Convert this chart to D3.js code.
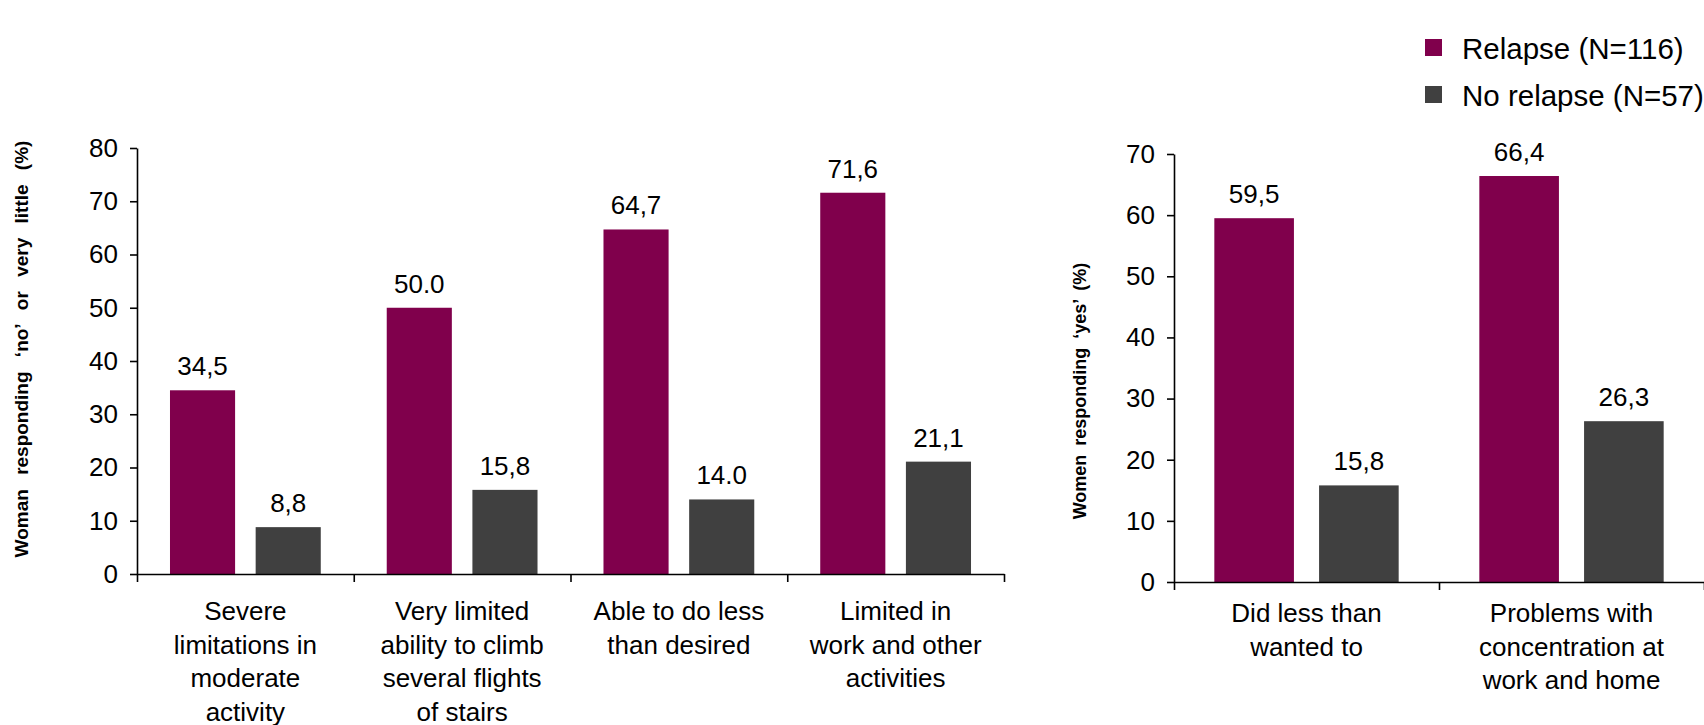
<!DOCTYPE html>
<html>
<head>
<meta charset="utf-8">
<script src="https://cdn.jsdelivr.net/npm/d3@7"></script>
<style>
  body { margin: 0; background: #fff; }
  svg text { font-family: "Liberation Sans", Arial, sans-serif; fill: #000; }
</style>
</head>
<body>
<div id="chart"></div>
<script>
// series
var seriesNames = ["Relapse (N=116)", "No relapse (N=57)"];
var seriesColors = ["#80004c", "#404040"];

// left panel
var leftCategories = [
  ["Severe", "limitations in", "moderate", "activity"],
  ["Very limited", "ability to climb", "several flights", "of stairs"],
  ["Able to do less", "than desired"],
  ["Limited in", "work and other", "activities"]
];
var leftRelapse = [34.5, 50.0, 64.7, 71.6];
var leftNoRelapse = [8.8, 15.8, 14.0, 21.1];
var leftRelapseText = ["34,5", "50.0", "64,7", "71,6"];
var leftNoRelapseText = ["8,8", "15,8", "14.0", "21,1"];
var leftTicks = [0, 10, 20, 30, 40, 50, 60, 70, 80];
var leftTitle = "Woman responding \u2018no\u2019 or very little (%)";

// right panel
var rightCategories = [
  ["Did less than", "wanted to"],
  ["Problems with", "concentration at", "work and home"]
];
var rightRelapse = [59.5, 66.4];
var rightNoRelapse = [15.8, 26.3];
var rightRelapseText = ["59,5", "66,4"];
var rightNoRelapseText = ["15,8", "26,3"];
var rightTicks = [0, 10, 20, 30, 40, 50, 60, 70];
var rightTitle = "Women responding \u2018yes\u2019 (%)";

var W = 1704, H = 725;
var svg = d3.select("#chart").append("svg").attr("width", W).attr("height", H);

function drawPanel(opt){
  var cats = opt.categories.map(function(c){ return c.join(" "); });
  var x0 = d3.scaleBand().domain(cats).range([opt.left, opt.right]).padding(0);
  var x1 = d3.scaleBand().domain(seriesNames).range([0, x0.bandwidth()])
    .paddingInner(0.24).paddingOuter(0.385);
  var y = d3.scaleLinear().domain([0, opt.max]).range([opt.bottom, opt.top]);

  var g = svg.append("g");

  // bars
  var rows = cats.map(function(c, i){
    return [
      {cat: c, s: seriesNames[0], v: opt.relapse[i], t: opt.relapseText[i]},
      {cat: c, s: seriesNames[1], v: opt.noRelapse[i], t: opt.noRelapseText[i]}
    ];
  });
  var grp = g.selectAll(".cat").data(rows).enter().append("g")
    .attr("transform", function(d){ return "translate(" + x0(d[0].cat) + ",0)"; });

  grp.selectAll("rect").data(function(d){ return d; }).enter().append("rect")
    .attr("x", function(d){ return x1(d.s); })
    .attr("y", function(d){ return y(d.v); })
    .attr("width", x1.bandwidth())
    .attr("height", function(d){ return y(0) - y(d.v); })
    .attr("fill", function(d, i){ return seriesColors[i]; });

  grp.selectAll("text.val").data(function(d){ return d; }).enter().append("text")
    .attr("class", "val")
    .attr("x", function(d){ return x1(d.s) + x1.bandwidth() / 2; })
    .attr("y", function(d){ return y(d.v) - 15; })
    .attr("text-anchor", "middle")
    .style("font-size", "26px")
    .text(function(d){ return d.t; });

  // y axis
  var yAxis = d3.axisLeft(y).tickValues(opt.ticks).tickSize(7).tickSizeOuter(0).tickPadding(12);
  var ya = g.append("g").attr("transform", "translate(" + opt.left + ",0)").call(yAxis);
  ya.selectAll("text").style("font-size", "26px").attr("fill", "#000");
  ya.selectAll("line,path").attr("stroke", "#000").attr("stroke-width", 1.6);

  // x axis, ticks between categories
  var xb = d3.scaleLinear().domain([0, cats.length]).range([opt.left, opt.right]);
  var xAxis = d3.axisBottom(xb).ticks(cats.length).tickSize(8).tickSizeOuter(0).tickFormat("");
  var xa = g.append("g").attr("transform", "translate(0," + opt.bottom + ")").call(xAxis);
  xa.selectAll("line,path").attr("stroke", "#000").attr("stroke-width", 1.6);

  // category labels
  var lab = g.selectAll("text.cat").data(opt.categories).enter().append("text")
    .attr("class", "cat")
    .attr("text-anchor", "middle")
    .style("font-size", "26px")
    .attr("transform", function(d, i){
      return "translate(" + (x0(cats[i]) + x0.bandwidth() / 2) + "," + (opt.bottom + opt.labelOffset) + ")";
    });
  lab.selectAll("tspan").data(function(d){ return d; }).enter().append("tspan")
    .attr("x", 0)
    .attr("dy", function(d, i){ return i === 0 ? 0 : 33.5; })
    .text(function(d){ return d; });

  // y title
  g.append("text")
    .attr("transform", "translate(" + opt.titleX + "," + opt.titleY + ") rotate(-90)")
    .attr("text-anchor", "middle")
    .style("font-size", opt.titleSize + "px")
    .style("font-weight", "bold")
    .style("word-spacing", opt.wordSpacing + "px")
    .text(opt.title);
}

drawPanel({
  categories: leftCategories, relapse: leftRelapse, noRelapse: leftNoRelapse,
  relapseText: leftRelapseText, noRelapseText: leftNoRelapseText,
  ticks: leftTicks, max: 80, title: leftTitle,
  left: 137, right: 1004, top: 148, bottom: 574, labelOffset: 46,
  titleX: 28, titleY: 349, titleSize: 19, wordSpacing: 9
});

drawPanel({
  categories: rightCategories, relapse: rightRelapse, noRelapse: rightNoRelapse,
  relapseText: rightRelapseText, noRelapseText: rightNoRelapseText,
  ticks: rightTicks, max: 70, title: rightTitle,
  left: 1174, right: 1704, top: 154, bottom: 582, labelOffset: 40,
  titleX: 1086, titleY: 391, titleSize: 18, wordSpacing: 4
});

// legend
var leg = svg.append("g").selectAll("g").data(seriesNames).enter().append("g")
  .attr("transform", function(d, i){ return "translate(1425," + (48 + i * 47) + ")"; });
leg.append("rect").attr("x", 0).attr("y", -9).attr("width", 17).attr("height", 17)
  .attr("fill", function(d, i){ return seriesColors[i]; });
leg.append("text").attr("x", 37).attr("y", 11)
  .style("font-size", "29.5px")
  .text(function(d){ return d; });
</script>
</body>
</html>
